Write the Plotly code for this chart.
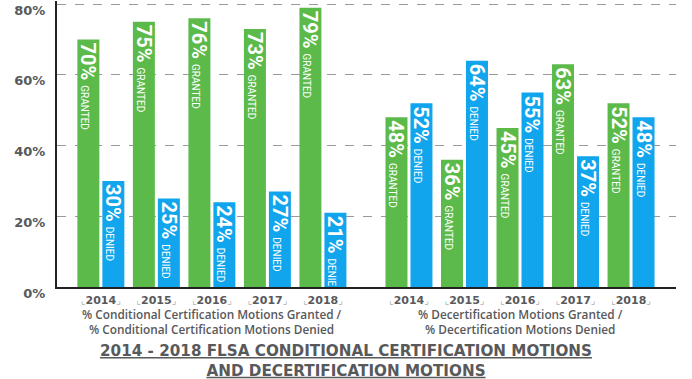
import numpy as np
import plotly.graph_objects as go

years = ["2014", "2015", "2016", "2017", "2018"]
cond_granted = [70, 75, 76, 73, 79]
cond_denied = [30, 25, 24, 27, 21]
decert_granted = [48, 36, 45, 63, 52]
decert_denied = [52, 64, 55, 37, 48]
y_ticks = [0, 20, 40, 60, 80]
group_labels = [
    "% Conditional Certification Motions Granted /<br>% Conditional Certification Motions Denied",
    "% Decertification Motions Granted /<br>% Decertification Motions Denied",
]
title_lines = ["2014 - 2018 FLSA CONDITIONAL CERTIFICATION MOTIONS", "AND DECERTIFICATION MOTIONS"]

GREEN = "#5cba4b"
BLUE = "#10a5ec"
GRAY = "#58595b"
GROUP_OFFSET = 5.55
BAR_FONT = "Roboto, sans-serif"
MAIN_FONT = "DejaVu Sans, Verdana, sans-serif"

n = len(years)
x_pos = np.concatenate([np.arange(n), np.arange(n) + GROUP_OFFSET])
granted = cond_granted + decert_granted
denied = cond_denied + decert_denied


def label(v, word):
    return f"<b>{v}%</b> <span style='font-size:10px'>{word}</span>"


fig = go.Figure()
for vals, color, word in [(granted, GREEN, "GRANTED"), (denied, BLUE, "DENIED")]:
    fig.add_trace(go.Bar(
        x=x_pos, y=vals, marker_color=color, marker_line_width=0,
        text=[label(v, word) for v in vals],
        textposition="inside", insidetextanchor="end", textangle=90,
        constraintext="none",
        insidetextfont=dict(family=BAR_FONT, size=20, color="white"),
        hoverinfo="skip", name=word.title(),
    ))

mark = "<span style='color:#b0b0b0;font-size:10px;font-weight:normal'>{}</span>"
tick_text = [mark.format("⌞") + y + mark.format("⌟") for y in years] * 2

group_centers = [float(np.mean(x_pos[:n])), float(np.mean(x_pos[n:]))]
for gx, gl in zip(group_centers, group_labels):
    fig.add_annotation(
        x=gx, xref="x", y=0, yref="paper", yshift=-34, yanchor="middle",
        text=gl, showarrow=False,
        font=dict(family="Open Sans, sans-serif", size=11.8, color=GRAY, weight=600),
    )

fig.update_layout(
    width=692, height=379,
    margin=dict(l=57, r=16, t=1, b=92),
    paper_bgcolor="white", plot_bgcolor="white",
    barmode="group", bargap=0.1, bargroupgap=0.12,
    showlegend=False,
    title=dict(
        text="<br>".join(f"<u>{t}</u>" for t in title_lines),
        x=0.5, xref="container", xanchor="center",
        y=1 - 356 / 379, yref="container", yanchor="middle",
        font=dict(family=MAIN_FONT, size=15.2, color=GRAY, weight="bold"),
    ),
    xaxis=dict(
        range=[-0.79, 10.36], tickvals=x_pos, ticktext=tick_text,
        showgrid=False, zeroline=False, automargin=False,
        showline=True, linecolor="#222", linewidth=2,
        ticks="", ticklabelstandoff=2,
        tickfont=dict(family=MAIN_FONT, size=11, color=GRAY, weight="bold"),
    ),
    yaxis=dict(
        range=[0, 80.9], tickvals=y_ticks, ticktext=[f"{v}%" for v in y_ticks],
        showgrid=True, gridcolor="#9a9a9a", griddash="dash", gridwidth=1,
        zeroline=False, showline=True, linecolor="#222", linewidth=2,
        automargin=False,
        ticks="", ticklabelstandoff=7, ticklabelshift=6, ticklabeloverflow="allow",
        tickfont=dict(family=MAIN_FONT, size=13, color=GRAY, weight="bold"),
    ),
)

fig.write_html("out.html", config={"displayModeBar": False},
               post_script="document.body.style.margin='0';")
